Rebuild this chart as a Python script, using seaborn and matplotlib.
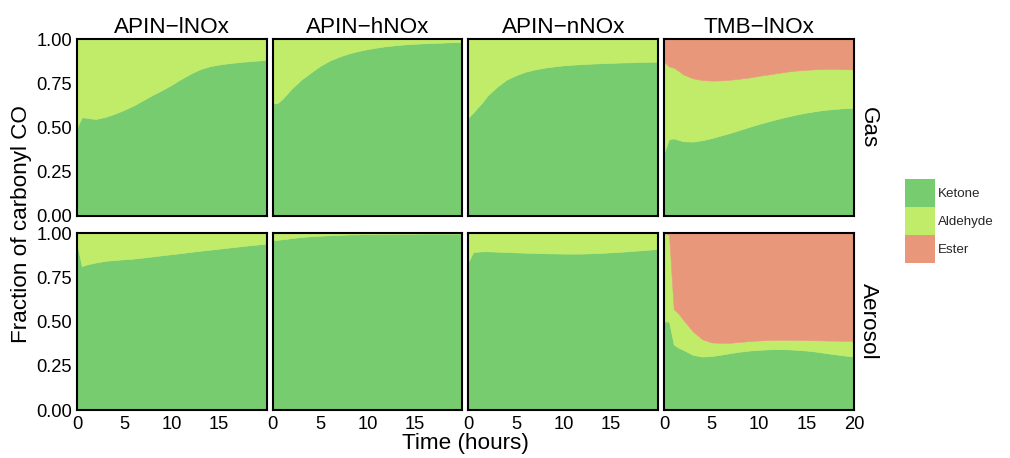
import numpy as np
import pandas as pd
import matplotlib
matplotlib.use("Agg")
import matplotlib.pyplot as plt
import seaborn as sns
from matplotlib.patches import Patch

# ---------------- data ----------------
time_h = [0, 0.5, 1, 1.5, 2, 3, 4, 5, 6, 7, 8, 9, 10, 11, 12, 13, 14, 15, 16, 17, 18, 19, 20]
systems = ["APIN\u2212lNOx", "APIN\u2212hNOx", "APIN\u2212nNOx", "TMB\u2212lNOx"]
phases = ["Gas", "Aerosol"]
groups = ["Ketone", "Aldehyde", "Ester"]
group_colors = ["#78CC70", "#C1EC6A", "#E9977A"]
x_ticks_inner = [0, 5, 10, 15]
x_ticks_last = [0, 5, 10, 15, 20]
y_ticks = [0.0, 0.25, 0.50, 0.75, 1.00]
y_tick_labels = ["0.00", "0.25", "0.50", "0.75", "1.00"]

# Gas phase
lnox_gas_ketone = [0.50, 0.557, 0.555, 0.551, 0.548, 0.56, 0.578, 0.60, 0.625, 0.655, 0.685, 0.712, 0.742, 0.775, 0.805, 0.83, 0.846, 0.856, 0.863, 0.869, 0.874, 0.878, 0.882]
lnox_gas_aldehyde = [0.50, 0.443, 0.445, 0.449, 0.452, 0.44, 0.422, 0.40, 0.375, 0.345, 0.315, 0.288, 0.258, 0.225, 0.195, 0.17, 0.154, 0.144, 0.137, 0.131, 0.126, 0.122, 0.118]
lnox_gas_ester = [0.0] * 23

hnox_gas_ketone = [0.635, 0.638, 0.66, 0.69, 0.72, 0.77, 0.81, 0.848, 0.878, 0.90, 0.918, 0.932, 0.943, 0.952, 0.96, 0.965, 0.97, 0.973, 0.976, 0.978, 0.98, 0.982, 0.983]
hnox_gas_aldehyde = [0.365, 0.362, 0.34, 0.31, 0.28, 0.23, 0.19, 0.152, 0.122, 0.10, 0.082, 0.068, 0.057, 0.048, 0.04, 0.035, 0.03, 0.027, 0.024, 0.022, 0.02, 0.018, 0.017]
hnox_gas_ester = [0.0] * 23

nnox_gas_ketone = [0.557, 0.585, 0.615, 0.645, 0.68, 0.73, 0.77, 0.795, 0.815, 0.828, 0.838, 0.845, 0.851, 0.855, 0.858, 0.861, 0.863, 0.865, 0.867, 0.868, 0.87, 0.871, 0.872]
nnox_gas_aldehyde = [0.443, 0.415, 0.385, 0.355, 0.32, 0.27, 0.23, 0.205, 0.185, 0.172, 0.162, 0.155, 0.149, 0.145, 0.142, 0.139, 0.137, 0.135, 0.133, 0.132, 0.13, 0.129, 0.128]
nnox_gas_ester = [0.0] * 23

tmb_gas_ketone = [0.36, 0.435, 0.438, 0.43, 0.422, 0.42, 0.428, 0.44, 0.455, 0.47, 0.487, 0.504, 0.52, 0.535, 0.549, 0.562, 0.574, 0.584, 0.593, 0.60, 0.605, 0.609, 0.611]
tmb_gas_aldehyde = [0.51, 0.41, 0.40, 0.39, 0.378, 0.358, 0.34, 0.325, 0.311, 0.30, 0.289, 0.279, 0.272, 0.265, 0.259, 0.254, 0.248, 0.242, 0.236, 0.23, 0.225, 0.22, 0.217]
tmb_gas_ester = [0.13, 0.155, 0.162, 0.18, 0.20, 0.222, 0.232, 0.235, 0.234, 0.23, 0.224, 0.217, 0.208, 0.20, 0.192, 0.184, 0.178, 0.174, 0.171, 0.17, 0.17, 0.171, 0.172]

# Aerosol phase
lnox_aer_ketone = [0.945, 0.813, 0.822, 0.828, 0.834, 0.843, 0.848, 0.852, 0.856, 0.862, 0.868, 0.875, 0.881, 0.887, 0.894, 0.90, 0.906, 0.912, 0.918, 0.924, 0.93, 0.935, 0.941]
lnox_aer_aldehyde = [0.055, 0.187, 0.178, 0.172, 0.166, 0.157, 0.152, 0.148, 0.144, 0.138, 0.132, 0.125, 0.119, 0.113, 0.106, 0.10, 0.094, 0.088, 0.082, 0.076, 0.07, 0.065, 0.059]
lnox_aer_ester = [0.0] * 23

hnox_aer_ketone = [0.96, 0.962, 0.965, 0.968, 0.972, 0.978, 0.982, 0.985, 0.988, 0.99, 0.992, 0.993, 0.994, 0.995, 0.995, 0.996, 0.996, 0.996, 0.997, 0.997, 0.997, 0.997, 0.997]
hnox_aer_aldehyde = [0.04, 0.038, 0.035, 0.032, 0.028, 0.022, 0.018, 0.015, 0.012, 0.01, 0.008, 0.007, 0.006, 0.005, 0.005, 0.004, 0.004, 0.004, 0.003, 0.003, 0.003, 0.003, 0.003]
hnox_aer_ester = [0.0] * 23

nnox_aer_ketone = [0.84, 0.893, 0.895, 0.897, 0.897, 0.895, 0.893, 0.891, 0.889, 0.887, 0.886, 0.885, 0.884, 0.884, 0.884, 0.886, 0.888, 0.891, 0.894, 0.898, 0.902, 0.906, 0.911]
nnox_aer_aldehyde = [0.16, 0.107, 0.105, 0.103, 0.103, 0.105, 0.107, 0.109, 0.111, 0.113, 0.114, 0.115, 0.116, 0.116, 0.116, 0.114, 0.112, 0.109, 0.106, 0.102, 0.098, 0.094, 0.089]
nnox_aer_ester = [0.0] * 23

tmb_aer_ketone = [0.50, 0.50, 0.37, 0.352, 0.34, 0.312, 0.302, 0.305, 0.313, 0.322, 0.33, 0.336, 0.34, 0.343, 0.344, 0.343, 0.34, 0.336, 0.33, 0.322, 0.315, 0.308, 0.302]
tmb_aer_aldehyde = [0.50, 0.49, 0.20, 0.193, 0.17, 0.133, 0.098, 0.077, 0.066, 0.058, 0.055, 0.054, 0.053, 0.053, 0.053, 0.054, 0.056, 0.059, 0.064, 0.071, 0.077, 0.083, 0.089]
tmb_aer_ester = [0.0, 0.01, 0.43, 0.455, 0.49, 0.555, 0.60, 0.618, 0.621, 0.62, 0.615, 0.61, 0.607, 0.604, 0.603, 0.603, 0.604, 0.605, 0.606, 0.607, 0.608, 0.609, 0.609]

panel_data = {
    (systems[0], "Gas"): (lnox_gas_ketone, lnox_gas_aldehyde, lnox_gas_ester),
    (systems[1], "Gas"): (hnox_gas_ketone, hnox_gas_aldehyde, hnox_gas_ester),
    (systems[2], "Gas"): (nnox_gas_ketone, nnox_gas_aldehyde, nnox_gas_ester),
    (systems[3], "Gas"): (tmb_gas_ketone, tmb_gas_aldehyde, tmb_gas_ester),
    (systems[0], "Aerosol"): (lnox_aer_ketone, lnox_aer_aldehyde, lnox_aer_ester),
    (systems[1], "Aerosol"): (hnox_aer_ketone, hnox_aer_aldehyde, hnox_aer_ester),
    (systems[2], "Aerosol"): (nnox_aer_ketone, nnox_aer_aldehyde, nnox_aer_ester),
    (systems[3], "Aerosol"): (tmb_aer_ketone, tmb_aer_aldehyde, tmb_aer_ester),
}

rows = []
for (sysname, phase), series in panel_data.items():
    for gname, vals in zip(groups, series):
        for t, v in zip(time_h, vals):
            rows.append({"system": sysname, "phase": phase, "group": gname, "time": t, "fraction": v})
df = pd.DataFrame(rows)

# ---------------- plot ----------------
sns.set_theme(style="white")
plt.rcParams["font.family"] = ["Liberation Sans", "DejaVu Sans"]

g = sns.FacetGrid(df, row="phase", col="system", row_order=phases, col_order=systems,
                  sharex=False, sharey=False, despine=False, height=2.0, aspect=1.1)


def draw_stack(data, color=None, label=None, **kws):
    ax = plt.gca()
    wide = data.pivot(index="time", columns="group", values="fraction")[groups]
    ax.stackplot(wide.index.values, *[wide[gr].values for gr in groups],
                 colors=group_colors, linewidth=0.4, edgecolor="face", antialiased=True)


g.map_dataframe(draw_stack)
g.set_titles("")

fig = g.figure
fig.set_size_inches(10.1, 4.58)
fig.subplots_adjust(left=0.0762, right=0.8455, top=0.9148, bottom=0.1048,
                    wspace=0.032, hspace=0.097)

tick_fs = 13.2
for i, phase in enumerate(phases):
    for j, sysname in enumerate(systems):
        ax = g.axes[i, j]
        ax.set_xlim(0, 20)
        ax.set_ylim(0, 1)
        ax.set_xlabel("")
        ax.set_ylabel("")
        ax.set_title("")
        for sp in ax.spines.values():
            sp.set_visible(True)
            sp.set_color("black")
            sp.set_linewidth(1.5)
            sp.set_zorder(5)
        ax.set_xticks(x_ticks_last if j == 3 else x_ticks_inner)
        ax.set_xticklabels([str(v) for v in (x_ticks_last if j == 3 else x_ticks_inner)])
        ax.set_yticks(y_ticks)
        ax.set_yticklabels(y_tick_labels)
        ax.tick_params(axis="both", direction="in", length=4.5, width=1.1, color="black",
                       labelsize=tick_fs, labelcolor="black")
        ax.tick_params(axis="y", pad=3.5)
        ax.tick_params(axis="x", pad=4.5)
        if i == 0:
            ax.tick_params(axis="x", bottom=False, labelbottom=False)
            ax.set_title(sysname, fontsize=16.2, pad=4.5, color="black")
        if j > 0:
            ax.tick_params(axis="y", left=False, labelleft=False)
        if j == 3:
            ax.text(1.02, 0.5, phase, transform=ax.transAxes, rotation=-90,
                    ha="left", va="center", fontsize=16.2, color="black")

fig.text(0.461, 0.031, "Time (hours)", ha="center", va="center", fontsize=16.2, color="black")
fig.text(0.021, 0.51, "Fraction of carbonyl CO", ha="center", va="center",
         rotation=90, fontsize=16.2, color="black")

handles = [Patch(facecolor=c, edgecolor="none", label=gr) for gr, c in zip(groups, group_colors)]
fig.legend(handles=handles, loc="upper left", bbox_to_anchor=(905 / 1010, 1 - 179 / 458),
           frameon=False, fontsize=9.6, handlelength=2.25, handleheight=2.85,
           labelspacing=0.0, handletextpad=0.25, borderpad=0.0, borderaxespad=0.0)

fig.patch.set_facecolor("white")
fig.savefig("out.png", dpi=100, facecolor="white")
